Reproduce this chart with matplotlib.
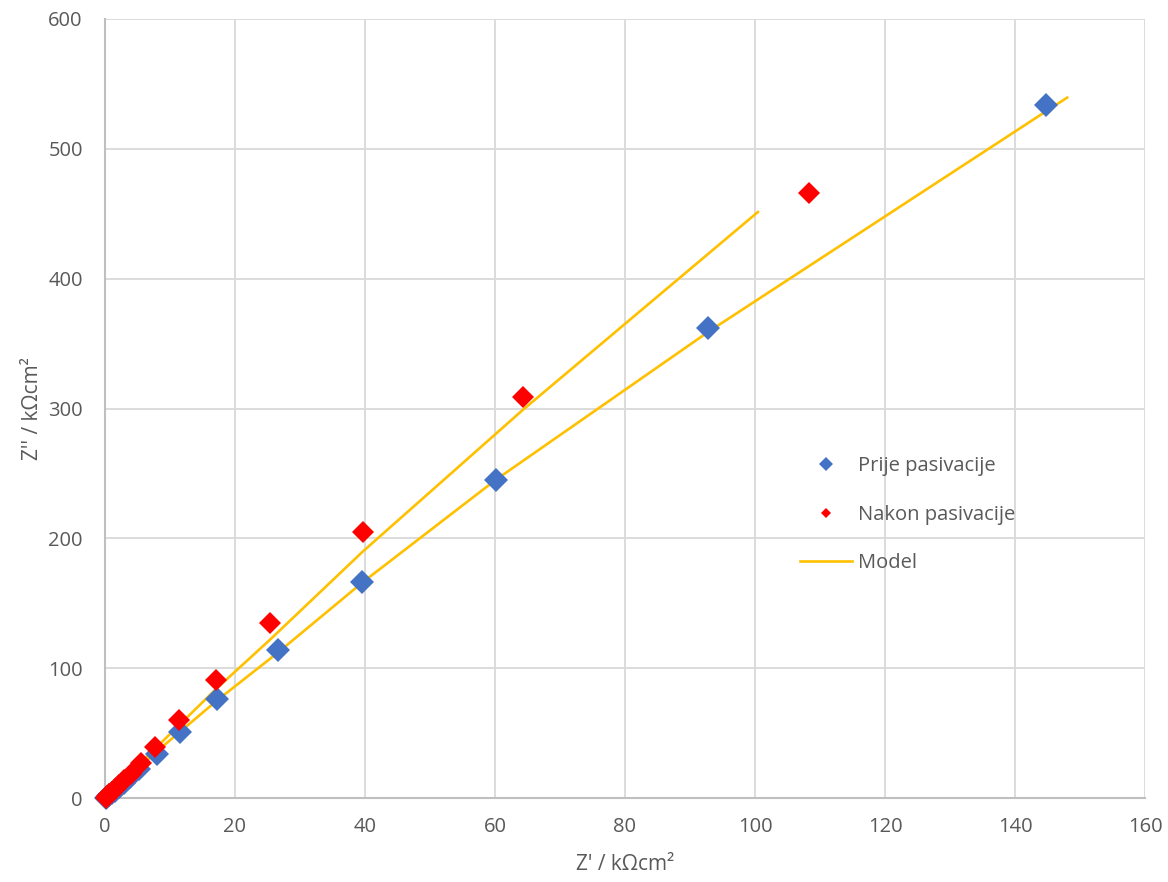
import matplotlib
matplotlib.use("Agg")
import matplotlib.pyplot as plt
from matplotlib.lines import Line2D

plt.rcParams['font.family'] = ['Open Sans', 'DejaVu Sans']

# Measured impedance before passivation (Z', Z'' in kOhm cm^2)
prije_zr = [0.1, 0.3, 0.6, 1.0, 1.5, 2.1, 2.9, 3.9, 5.3, 8.0, 11.6, 17.2, 26.6, 39.6, 60.1, 92.8, 144.8]
prije_zi = [0.2, 0.9, 2.0, 3.6, 5.7, 8.2, 11.6, 16.0, 22.0, 34.0, 51.0, 76.0, 114.0, 166.0, 245.0, 362.0, 534.0]

# Measured impedance after passivation
nakon_zr = [0.1, 0.3, 0.6, 1.0, 1.5, 2.1, 2.9, 4.0, 5.6, 7.7, 11.4, 17.1, 25.4, 39.7, 64.3, 108.3]
nakon_zi = [0.3, 1.2, 2.7, 4.6, 7.0, 10.0, 13.6, 18.8, 27.0, 39.0, 60.0, 91.0, 135.0, 205.0, 309.0, 466.0]

# Fitted model curves
model1_zr = [0.0, 8.0, 17.2, 26.6, 39.6, 60.1, 92.8, 144.8, 148.2]
model1_zi = [0.0, 36.0, 75.0, 112.0, 166.0, 245.0, 359.0, 529.0, 540.0]
model2_zr = [0.0, 7.7, 17.1, 25.4, 39.7, 64.3, 100.6]
model2_zi = [0.0, 38.0, 84.0, 122.0, 190.0, 299.0, 452.0]

x_ticks = [0, 20, 40, 60, 80, 100, 120, 140, 160]
y_ticks = [0, 100, 200, 300, 400, 500, 600]

BLUE = '#4472C4'
RED = '#FF0000'
GOLD = '#FFC000'
TXT = '#595959'

fig = plt.figure(figsize=(11.68, 8.82), dpi=100)
ax = fig.add_axes([105 / 1168, 84 / 882, 1040 / 1168, 779 / 882])

ax.plot(model1_zr, model1_zi, color=GOLD, lw=1.9, zorder=3, solid_capstyle='butt')
ax.plot(model2_zr, model2_zi, color=GOLD, lw=1.9, zorder=3, solid_capstyle='butt')
ax.plot(prije_zr, prije_zi, linestyle='none', marker='D', ms=12.5, color=BLUE,
        markeredgewidth=0, zorder=4, clip_on=False)
ax.plot(nakon_zr, nakon_zi, linestyle='none', marker='D', ms=11, color=RED,
        markeredgewidth=0, zorder=5, clip_on=False)

ax.set_xlim(0, 160)
ax.set_ylim(0, 600)
ax.set_xticks(x_ticks)
ax.set_yticks(y_ticks)
ax.grid(True, color='#D9D9D9', lw=1.3)
ax.set_axisbelow(True)
for s in ['top', 'right']:
    ax.spines[s].set_visible(False)
for s in ['left', 'bottom']:
    ax.spines[s].set_color('#BFBFBF')
    ax.spines[s].set_linewidth(1.5)
    ax.spines[s].set_zorder(2)
ax.tick_params(length=0, labelsize=14.5, labelcolor=TXT)
ax.tick_params(axis='y', pad=16)
ax.tick_params(axis='x', pad=14)

ax.set_xlabel("Z' / k\u03a9cm\u00b2", fontsize=15, color=TXT, labelpad=12)
ax.set_ylabel("Z'' / k\u03a9cm\u00b2", fontsize=15, color=TXT, labelpad=4)

handles = [
    Line2D([], [], linestyle='none', marker='D', ms=7.5, color=BLUE, markeredgewidth=0),
    Line2D([], [], linestyle='none', marker='D', ms=5.5, color=RED, markeredgewidth=0),
    Line2D([], [], color=GOLD, lw=1.9),
]
leg = ax.legend(handles, ['Prije pasivacije', 'Nakon pasivacije', 'Model'],
                loc='upper left', bbox_to_anchor=(792 / 1168, (882 - 448) / 882),
                bbox_transform=fig.transFigure, frameon=False, fontsize=14.5,
                handlelength=2.6, handletextpad=0.3, labelspacing=1.42,
                borderaxespad=0)
for t in leg.get_texts():
    t.set_color(TXT)

fig.savefig('out.png', dpi=100)
